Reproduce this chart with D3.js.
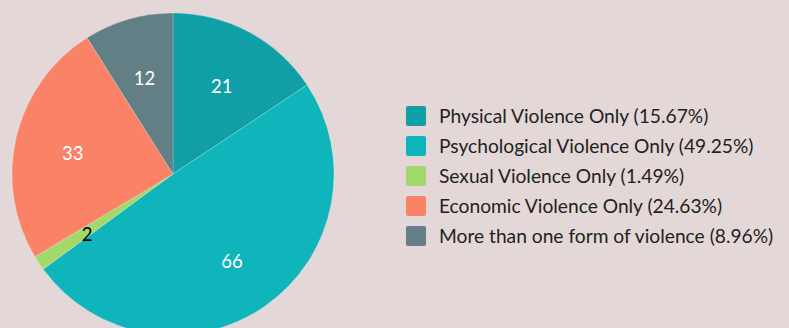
<!DOCTYPE html>
<html>
<head>
<meta charset="utf-8">
<script src="https://cdn.jsdelivr.net/npm/d3@7"></script>
<style>
  body { margin: 0; background: #e3d7d7; }
  svg { display: block; font-family: Lato, "Open Sans", sans-serif; }
</style>
</head>
<body>
<svg class="chart" width="789" height="328"></svg>
<script>
// categories and counts
var categories = ["Physical Violence Only", "Psychological Violence Only", "Sexual Violence Only", "Economic Violence Only", "More than one form of violence"];
var counts = [21, 66, 2, 33, 12];
var percents = ["15.67%", "49.25%", "1.49%", "24.63%", "8.96%"];
var colors = ["#109fa6", "#10b4bb", "#a3d86a", "#fa8266", "#617f84"];
var label_colors = ["#fff", "#fff", "#000", "#fff", "#fff"];

// pie position
var center_x = 173;
var center_y = 174;
var radius = 161;

var chart = d3.select(".chart");

var pie = d3.pie().sort(null).value(function(d) { return d; });
var arcs = pie(counts);

var arc = d3.arc().innerRadius(0).outerRadius(radius);
var label_arc = d3.arc().innerRadius(radius * 0.64).outerRadius(radius * 0.64);

var g = chart.append("g").attr("transform", "translate(" + center_x + "," + center_y + ")");

g.selectAll("path")
    .data(arcs)
    .enter().append("path")
    .attr("d", arc)
    .attr("fill", function(d, i) { return colors[i]; })
    .attr("stroke", "rgba(255,255,255,0.35)")
    .attr("stroke-width", 0.6);

g.selectAll("text")
    .data(arcs)
    .enter().append("text")
    .attr("transform", function(d) { return "translate(" + label_arc.centroid(d) + ")"; })
    .attr("text-anchor", "middle")
    .attr("dy", "0.52em")
    .attr("font-size", 18.5)
    .attr("fill", function(d, i) { return label_colors[i]; })
    .text(function(d) { return d.data; });

// legend
var legend = chart.append("g").attr("transform", "translate(406,106)");

var rows = legend.selectAll("g")
    .data(categories)
    .enter().append("g")
    .attr("transform", function(d, i) { return "translate(0," + (i * 30) + ")"; });

rows.append("rect")
    .attr("width", 20)
    .attr("height", 20)
    .attr("rx", 2)
    .attr("fill", function(d, i) { return colors[i]; });

rows.append("text")
    .attr("x", 33)
    .attr("y", 10)
    .attr("dy", "0.36em")
    .attr("font-size", 19.2)
    .attr("fill", "#222")
    .text(function(d, i) { return d + " (" + percents[i] + ")"; });
</script>
</body>
</html>
